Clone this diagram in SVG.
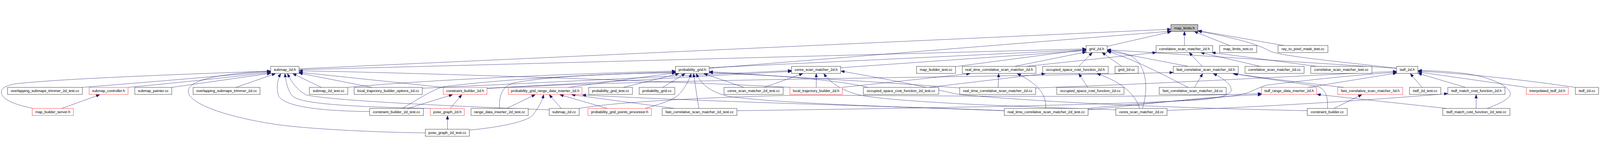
<svg xmlns="http://www.w3.org/2000/svg" width="5710" height="411" viewBox="0 0 5710 411" style="width:100%;height:100%">
<style>
.node rect{fill:#fff;stroke:#000;stroke-width:1}
.node.red rect{stroke:#f00}
.node.root rect{fill:#bfbfbf}
.node text{font-family:"Liberation Sans",Arial,sans-serif;font-size:13px;text-anchor:middle;fill:#000}
#edges path{fill:none;stroke:#191970;stroke-width:1;marker-end:url(#a)}
</style>
<defs>
<marker id="a" markerUnits="userSpaceOnUse" markerWidth="13" markerHeight="10" refX="13" refY="5" orient="auto">
<path d="M0,0 L13,5 L0,10 z" fill="#191970" stroke="#191970"/>
</marker>
</defs>
<rect width="5710" height="411" fill="#fff"/>
<g id="edges">
<path d="M3951,84 L4179,32"/>
<path d="M4227,81 L4227,31"/>
<path d="M4388,81 L4262,31"/>
<path d="M4582,81 L4276,28"/>
<path d="M1067,164 L4179,23"/>
<path d="M2531,162 L4179,30"/>
<path d="M4984,162 C4800,140 4570,120 4530,100 C4480,70 4360,45 4276,30"/>
<path d="M1067,167 L3876,93"/>
<path d="M2531,160 L3876,96"/>
<path d="M3000,160 L3876,99"/>
<path d="M3410,156 L3876,95"/>
<path d="M3622,155 L3876,104"/>
<path d="M3850,155 L3898,106"/>
<path d="M4003,155 L3933,106"/>
<path d="M4240,155 L3951,100"/>
<path d="M4077,305 C4095,250 4100,160 4040,120 C4010,105 3980,100 3952,98"/>
<path d="M4240,230 C4150,185 4050,130 3952,102"/>
<path d="M4984,162 L3952,96"/>
<path d="M3664,155 L4126,106"/>
<path d="M4290,155 L4244,106"/>
<path d="M4497,155 L4285,106"/>
<path d="M4698,155 L4325,106"/>
<path d="M115,304 C60,293 8,275 5,250 C3,232 20,225 50,218 C200,200 600,185 966,172"/>
<path d="M293,230 C550,210 800,188 966,174"/>
<path d="M457,230 C650,212 850,190 966,177"/>
<path d="M613,230 L966,180"/>
<path d="M842,230 L983,181"/>
<path d="M1518,392 C1300,389 1050,375 955,357 C820,335 670,290 672,243 C674,200 800,180 966,172"/>
<path d="M1147,230 L1045,181"/>
<path d="M1327,230 L1067,179"/>
<path d="M1582,230 L1067,176"/>
<path d="M1319,316 C1150,314 1020,300 995,262 C985,235 990,200 1002,181"/>
<path d="M1536,305 C1300,300 1080,292 1045,262 C1028,245 1020,210 1017,181"/>
<path d="M1960,310 C1700,300 1200,280 1093,257 C1060,240 1040,210 1026,181"/>
<path d="M2820,230 C2500,212 1500,178 1067,171"/>
<path d="M1241,230 C1500,205 2000,182 2411,172"/>
<path d="M1435,305 C1480,280 1530,245 1580,228 C1800,200 2100,185 2411,175"/>
<path d="M1455,305 L1615,256"/>
<path d="M1607,305 L1648,256"/>
<path d="M1597,379 L1597,331"/>
<path d="M220,305 L356,256"/>
<path d="M1782,305 C1782,270 1785,230 1830,215 C1950,190 2200,180 2411,178"/>
<path d="M1808,305 L1910,256"/>
<path d="M1675,382 C1800,370 1880,350 1900,330 C1920,305 1935,280 1940,256"/>
<path d="M2003,305 L1960,256"/>
<path d="M2168,305 L1998,256"/>
<path d="M2408,305 L2040,256"/>
<path d="M3584,313 C3300,300 2600,285 2078,257"/>
<path d="M2028,230 L2411,178"/>
<path d="M2225,230 L2423,181"/>
<path d="M2365,230 L2445,181"/>
<path d="M2494,305 L2475,181"/>
<path d="M2303,305 C2340,292 2400,280 2425,253 C2445,230 2460,205 2466,181"/>
<path d="M3584,313 C3300,302 2800,290 2600,262 C2530,245 2500,215 2485,181"/>
<path d="M2655,230 L2512,181"/>
<path d="M2727,230 L2865,181"/>
<path d="M3097,230 C3000,205 2800,190 2531,174"/>
<path d="M3425,232 C3200,215 2800,190 2531,177"/>
<path d="M2913,230 L2913,181"/>
<path d="M3006,230 L3462,181"/>
<path d="M4665,313 C4300,305 3800,290 3420,255 C3350,240 3250,215 3001,172"/>
<path d="M3982,310 C3700,300 3200,285 3067,257 C3000,240 2960,210 2940,181"/>
<path d="M1738,233 C2100,215 2500,190 2825,173"/>
<path d="M1738,234 C2300,200 3500,195 4187,177"/>
<path d="M1507,233 C2000,210 2500,185 2825,170"/>
<path d="M2067,305 C2200,280 2600,262 2855,258 C3300,258 4000,270 4502,252"/>
<path d="M3883,310 C4100,290 4300,262 4502,256"/>
<path d="M3883,305 C4050,285 4400,270 4450,250 C4480,238 4500,228 4520,222 C4700,200 4850,185 4984,176"/>
<path d="M3696,232 C4200,215 4700,185 4984,173"/>
<path d="M4668,230 L4984,179"/>
<path d="M2630,313 C3200,305 3900,295 4275,275 C4360,268 4395,255 4394,238 C4392,215 4360,195 4330,181"/>
<path d="M4263,230 L4292,181"/>
<path d="M4797,230 C4700,220 4500,195 4400,181"/>
<path d="M4737,305 C4740,260 4730,235 4700,226 C4600,210 4480,195 4405,181"/>
<path d="M4760,305 L4860,256"/>
<path d="M4165,312 C4500,300 4900,275 5167,252"/>
<path d="M5163,305 L4700,255"/>
<path d="M5075,230 L5033,181"/>
<path d="M5307,305 C5360,285 5400,265 5388,245 C5370,215 5300,190 5225,180 C5150,172 5100,170 5061,170"/>
<path d="M5622,230 C5450,205 5250,182 5061,172"/>
<path d="M5447,230 L5061,175"/>
<path d="M5230,230 L5061,180"/>
<path d="M5268,305 L5268,256"/>
<path d="M3315,230 L3730,181"/>
<path d="M3882,230 L3850,181"/>
<path d="M4067,305 C4050,250 4000,210 3915,181"/>
<path d="M3562,230 L3564,181"/>
<path d="M3732,305 C3735,260 3710,220 3630,181"/>
</g>
<g id="n_map_limits_h" class="node root"><rect x="4179" y="6" width="96" height="25"/><text x="4227" y="23">map_limits.h</text></g>
<g id="n_grid_2d_h" class="node"><rect x="3876" y="81" width="75" height="25"/><text x="3913.5" y="98">grid_2d.h</text></g>
<g id="n_correlative_scan_matcher_2d_h" class="node"><rect x="4126" y="81" width="202" height="25"/><text x="4227" y="98">correlative_scan_matcher_2d.h</text></g>
<g id="n_map_limits_test_cc" class="node"><rect x="4353" y="81" width="132" height="25"/><text x="4419" y="98">map_limits_test.cc</text></g>
<g id="n_ray_to_pixel_mask_test_cc" class="node"><rect x="4561" y="81" width="178" height="25"/><text x="4650" y="98">ray_to_pixel_mask_test.cc</text></g>
<g id="n_submap_2d_h" class="node"><rect x="966" y="155" width="101" height="25"/><text x="1016.5" y="172">submap_2d.h</text></g>
<g id="n_probability_grid_h" class="node"><rect x="2411" y="155" width="120" height="25"/><text x="2471" y="172">probability_grid.h</text></g>
<g id="n_ceres_scan_matcher_2d_h" class="node"><rect x="2825" y="155" width="175" height="25"/><text x="2912.5" y="172">ceres_scan_matcher_2d.h</text></g>
<g id="n_map_builder_test_cc" class="node"><rect x="3271" y="155" width="139" height="25"/><text x="3340.5" y="172">map_builder_test.cc</text></g>
<g id="n_real_time_correlative_scan_matcher_2d_h" class="node"><rect x="3434" y="155" width="263" height="25"/><text x="3565.5" y="172">real_time_correlative_scan_matcher_2d.h</text></g>
<g id="n_occupied_space_cost_function_2d_h" class="node"><rect x="3721" y="155" width="234" height="25"/><text x="3838" y="172">occupied_space_cost_function_2d.h</text></g>
<g id="n_grid_2d_cc" class="node"><rect x="3979" y="155" width="83" height="25"/><text x="4020.5" y="172">grid_2d.cc</text></g>
<g id="n_fast_correlative_scan_matcher_2d_h" class="node"><rect x="4187" y="155" width="232" height="25"/><text x="4303" y="172">fast_correlative_scan_matcher_2d.h</text></g>
<g id="n_correlative_scan_matcher_2d_cc" class="node"><rect x="4443" y="155" width="211" height="25"/><text x="4548.5" y="172">correlative_scan_matcher_2d.cc</text></g>
<g id="n_correlative_scan_matcher_test_cc" class="node"><rect x="4678" y="155" width="218" height="25"/><text x="4787" y="172">correlative_scan_matcher_test.cc</text></g>
<g id="n_tsdf_2d_h" class="node"><rect x="4984" y="155" width="76" height="25"/><text x="5022" y="172">tsdf_2d.h</text></g>
<g id="n_overlapping_submaps_trimmer_2d_test_cc" class="node"><rect x="27" y="230" width="267" height="25"/><text x="160.5" y="247">overlapping_submaps_trimmer_2d_test.cc</text></g>
<g id="n_submap_controller_h" class="node red"><rect x="318" y="230" width="139" height="25"/><text x="387.5" y="247">submap_controller.h</text></g>
<g id="n_submap_painter_cc" class="node"><rect x="481" y="230" width="132" height="25"/><text x="547" y="247">submap_painter.cc</text></g>
<g id="n_overlapping_submaps_trimmer_2d_cc" class="node"><rect x="689" y="230" width="239" height="25"/><text x="808.5" y="247">overlapping_submaps_trimmer_2d.cc</text></g>
<g id="n_submap_2d_test_cc" class="node"><rect x="1104" y="230" width="137" height="25"/><text x="1172.5" y="247">submap_2d_test.cc</text></g>
<g id="n_local_trajectory_builder_options_2d_cc" class="node"><rect x="1264" y="230" width="243" height="25"/><text x="1385.5" y="247">local_trajectory_builder_options_2d.cc</text></g>
<g id="n_constraint_builder_2d_h" class="node red"><rect x="1582" y="230" width="156" height="25"/><text x="1660" y="247">constraint_builder_2d.h</text></g>
<g id="n_probability_grid_range_data_inserter_2d_h" class="node red"><rect x="1814" y="230" width="263" height="25"/><text x="1945.5" y="247">probability_grid_range_data_inserter_2d.h</text></g>
<g id="n_probability_grid_test_cc" class="node"><rect x="2101" y="230" width="156" height="25"/><text x="2179" y="247">probability_grid_test.cc</text></g>
<g id="n_probability_grid_cc" class="node"><rect x="2281" y="230" width="127" height="25"/><text x="2344.5" y="247">probability_grid.cc</text></g>
<g id="n_ceres_scan_matcher_2d_test_cc" class="node"><rect x="2584" y="230" width="211" height="25"/><text x="2689.5" y="247">ceres_scan_matcher_2d_test.cc</text></g>
<g id="n_local_trajectory_builder_2d_h" class="node red"><rect x="2819" y="230" width="187" height="25"/><text x="2912.5" y="247">local_trajectory_builder_2d.h</text></g>
<g id="n_occupied_space_cost_function_2d_test_cc" class="node"><rect x="3081" y="230" width="269" height="25"/><text x="3215.5" y="247">occupied_space_cost_function_2d_test.cc</text></g>
<g id="n_real_time_correlative_scan_matcher_2d_cc" class="node"><rect x="3425" y="230" width="271" height="25"/><text x="3560.5" y="247">real_time_correlative_scan_matcher_2d.cc</text></g>
<g id="n_occupied_space_cost_function_2d_cc" class="node"><rect x="3771" y="230" width="240" height="25"/><text x="3891" y="247">occupied_space_cost_function_2d.cc</text></g>
<g id="n_fast_correlative_scan_matcher_2d_cc" class="node"><rect x="4137" y="230" width="239" height="25"/><text x="4256.5" y="247">fast_correlative_scan_matcher_2d.cc</text></g>
<g id="n_tsdf_range_data_inserter_2d_h" class="node red"><rect x="4502" y="230" width="197" height="25"/><text x="4600.5" y="247">tsdf_range_data_inserter_2d.h</text></g>
<g id="n_fast_correlative_scan_matcher_3d_h" class="node red"><rect x="4774" y="230" width="232" height="25"/><text x="4890" y="247">fast_correlative_scan_matcher_3d.h</text></g>
<g id="n_tsdf_2d_test_cc" class="node"><rect x="5030" y="230" width="112" height="25"/><text x="5086" y="247">tsdf_2d_test.cc</text></g>
<g id="n_tsdf_match_cost_function_2d_h" class="node"><rect x="5167" y="230" width="204" height="25"/><text x="5269" y="247">tsdf_match_cost_function_2d.h</text></g>
<g id="n_interpolated_tsdf_2d_h" class="node red"><rect x="5447" y="230" width="150" height="25"/><text x="5522" y="247">interpolated_tsdf_2d.h</text></g>
<g id="n_tsdf_2d_cc" class="node"><rect x="5622" y="230" width="83" height="25"/><text x="5663.5" y="247">tsdf_2d.cc</text></g>
<g id="n_map_builder_server_h" class="node red"><rect x="115" y="305" width="147" height="25"/><text x="188.5" y="322">map_builder_server.h</text></g>
<g id="n_constraint_builder_2d_test_cc" class="node"><rect x="1319" y="305" width="192" height="25"/><text x="1415" y="322">constraint_builder_2d_test.cc</text></g>
<g id="n_pose_graph_2d_h" class="node red"><rect x="1536" y="305" width="121" height="25"/><text x="1596.5" y="322">pose_graph_2d.h</text></g>
<g id="n_range_data_inserter_2d_test_cc" class="node"><rect x="1681" y="305" width="204" height="25"/><text x="1783" y="322">range_data_inserter_2d_test.cc</text></g>
<g id="n_submap_2d_cc" class="node"><rect x="1960" y="305" width="107" height="25"/><text x="2013.5" y="322">submap_2d.cc</text></g>
<g id="n_probability_grid_points_processor_h" class="node red"><rect x="2098" y="305" width="227" height="25"/><text x="2211.5" y="322">probability_grid_points_processor.h</text></g>
<g id="n_fast_correlative_scan_matcher_2d_test_cc" class="node"><rect x="2363" y="305" width="267" height="25"/><text x="2496.5" y="322">fast_correlative_scan_matcher_2d_test.cc</text></g>
<g id="n_real_time_correlative_scan_matcher_2d_test_cc" class="node"><rect x="3584" y="305" width="299" height="25"/><text x="3733.5" y="322">real_time_correlative_scan_matcher_2d_test.cc</text></g>
<g id="n_ceres_scan_matcher_2d_cc" class="node"><rect x="3982" y="305" width="183" height="25"/><text x="4073.5" y="322">ceres_scan_matcher_2d.cc</text></g>
<g id="n_constraint_builder_cc" class="node"><rect x="4665" y="305" width="143" height="25"/><text x="4736.5" y="322">constraint_builder.cc</text></g>
<g id="n_tsdf_match_cost_function_2d_test_cc" class="node"><rect x="5149" y="305" width="240" height="25"/><text x="5269" y="322">tsdf_match_cost_function_2d_test.cc</text></g>
<g id="n_pose_graph_2d_test_cc" class="node"><rect x="1518" y="379" width="157" height="25"/><text x="1596.5" y="396">pose_graph_2d_test.cc</text></g>
</svg>
